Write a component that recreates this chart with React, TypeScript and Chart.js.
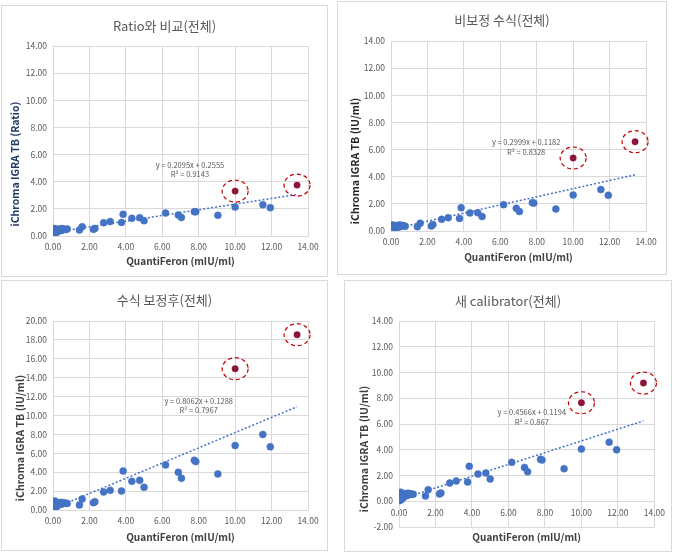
import React, { useEffect, useRef } from 'react';
import { Chart, registerables } from 'chart.js';

Chart.register(...registerables);

// QuantiFeron values (shared x for all four panels)
const qftX = [
  0.02, 0.03, 0.04, 0.05, 0.06, 0.07, 0.08, 0.09, 0.1, 0.11, 0.12, 0.13, 0.15, 0.16, 0.18,
  0.2, 0.22, 0.24, 0.27, 0.3, 0.33, 0.37, 0.41, 0.45, 0.5, 0.55, 0.62, 0.7, 0.78,
  1.45, 1.6, 2.22, 2.3, 2.78, 3.14, 3.76, 3.85, 4.33, 4.76, 5.0, 6.18, 6.88, 7.05, 7.76, 7.84,
  9.05, 10.0, 11.52, 11.93,
];

const ratioY = [
  0.12, 0.35, 0.18, 0.5, 0.22, 0.15, 0.42, 0.28, 0.55, 0.2, 0.32, 0.25, 0.45, 0.3, 0.38,
  0.27, 0.5, 0.33, 0.4, 0.36, 0.48, 0.44, 0.52, 0.4, 0.55, 0.46, 0.5, 0.48, 0.52,
  0.44, 0.69, 0.49, 0.56, 0.98, 1.06, 1.0, 1.6, 1.3, 1.35, 1.13, 1.69, 1.55, 1.37, 1.79, 1.79,
  1.52, 2.13, 2.31, 2.09,
];

const rawY = [
  0.05, 0.25, 0.1, 0.4, 0.12, 0.08, 0.3, 0.18, 0.45, 0.1, 0.22, 0.15, 0.35, 0.2, 0.28,
  0.18, 0.4, 0.22, 0.3, 0.26, 0.38, 0.32, 0.42, 0.3, 0.44, 0.36, 0.4, 0.38, 0.35,
  0.32, 0.57, 0.37, 0.47, 0.86, 0.98, 0.93, 1.72, 1.33, 1.35, 1.06, 1.94, 1.67, 1.43, 2.09, 2.06,
  1.62, 2.65, 3.05, 2.63,
];

const corrY = [
  0.1, 0.5, 0.2, 0.85, 0.25, 0.15, 0.65, 0.35, 0.95, 0.2, 0.45, 0.3, 0.7, 0.4, 0.6,
  0.35, 0.8, 0.45, 0.6, 0.55, 0.75, 0.65, 0.8, 0.6, 0.8, 0.7, 0.75, 0.72, 0.7,
  0.53, 1.17, 0.78, 0.88, 1.91, 2.08, 2.01, 4.13, 3.04, 3.14, 2.4, 4.77, 3.99, 3.36, 5.27, 5.12,
  3.82, 6.82, 7.99, 6.68,
];

const newCalY = [
  0.05, 0.35, 0.12, 0.6, 0.15, 0.1, 0.45, 0.22, 0.7, 0.12, 0.3, 0.2, 0.5, 0.28, 0.42,
  0.25, 0.58, 0.3, 0.45, 0.4, 0.55, 0.5, 0.6, 0.45, 0.62, 0.52, 0.58, 0.55, 0.55,
  0.41, 0.9, 0.57, 0.64, 1.42, 1.57, 1.49, 2.71, 2.11, 2.19, 1.73, 3.02, 2.63, 2.29, 3.27, 3.2,
  2.53, 4.05, 4.59, 4.0,
];

// Circled outliers
const outX = [10.0, 13.4];
const ratioOutY = [3.31, 3.75];
const rawOutY = [5.38, 6.58];
const corrOutY = [14.95, 18.55];
const newCalOutY = [7.65, 9.18];

// Trend line end points
const trendX = [0, 13.4];
const ratioTrend = [0.26, 3.06];
const rawTrend = [0.12, 4.14];
const corrTrend = [0.13, 10.93];
const newCalTrend = [0.12, 6.24];

const titles = ['Ratio와 비교(전체)', '비보정 수식(전체)', '수식 보정후(전체)', '새 calibrator(전체)'];
const xTitle = 'QuantiFeron (mIU/ml)';
const yTitles = ['iChroma IGRA TB (Ratio)', 'iChroma IGRA TB (IU/ml)', 'iChroma IGRA TB (IU/ml)', 'iChroma IGRA TB (IU/ml)'];
const equations = [
  ['y = 0.2095x + 0.2555', 'R² = 0.9143'],
  ['y = 0.2999x + 0.1182', 'R² = 0.8328'],
  ['y = 0.8062x + 0.1288', 'R² = 0.7967'],
  ['y = 0.4566x + 0.1194', 'R² = 0.867'],
];

const FONT = '"Noto Sans CJK KR", "Noto Sans", sans-serif';

type Cfg = {
  box: [number, number, number, number];
  ys: number[];
  outYs: number[];
  trend: number[];
  yMin: number;
  yMax: number;
  title: string;
  titleY: number;
  yTitle: string;
  yTitleColor: string;
  yTitleX: number;
  yTitleY: number;
  xTitleY: number;
  eq: string[];
  eqPos: [number, number, number];
  padTop: number;
  padRight: number;
  padBottom: number;
  yW: number;
  xH: number;
  xAxisAtZero: boolean;
};

const panels: Cfg[] = [
  {
    box: [1, 5, 327, 272], ys: ratioY, outYs: ratioOutY, trend: ratioTrend, yMin: 0, yMax: 14,
    title: titles[0], titleY: 20, yTitle: yTitles[0], yTitleColor: '#1f3864', yTitleX: 13, yTitleY: 158,
    xTitleY: 255, eq: equations[0], eqPos: [7.52, 5.23, 4.57],
    padTop: 40, padRight: 19, padBottom: 0, yW: 51, xH: 40, xAxisAtZero: false,
  },
  {
    box: [337, 1, 330, 274], ys: rawY, outYs: rawOutY, trend: rawTrend, yMin: 0, yMax: 14,
    title: titles[1], titleY: 18, yTitle: yTitles[1], yTitleColor: '#262626', yTitleX: 17, yTitleY: 159,
    xTitleY: 255, eq: equations[1], eqPos: [7.42, 6.56, 5.79],
    padTop: 39, padRight: 20, padBottom: 0, yW: 53, xH: 43, xAxisAtZero: false,
  },
  {
    box: [1, 280, 327, 271], ys: corrY, outYs: corrOutY, trend: corrTrend, yMin: 0, yMax: 20,
    title: titles[2], titleY: 19, yTitle: yTitles[2], yTitleColor: '#404040', yTitleX: 18, yTitleY: 157,
    xTitleY: 256, eq: equations[2], eqPos: [8.0, 11.5, 10.57],
    padTop: 40, padRight: 19, padBottom: 0, yW: 51, xH: 40, xAxisAtZero: false,
  },
  {
    box: [344, 280, 328, 272], ys: newCalY, outYs: newCalOutY, trend: newCalTrend, yMin: -2, yMax: 14,
    title: titles[3], titleY: 20, yTitle: yTitles[3], yTitleColor: '#404040', yTitleX: 19, yTitleY: 168,
    xTitleY: 256, eq: equations[3], eqPos: [7.28, 6.93, 6.16],
    padTop: 40, padRight: 15, padBottom: 24, yW: 54, xH: 24, xAxisAtZero: true,
  },
];

function makeDeco(cfg: Cfg) {
  return {
    id: 'deco',
    afterDatasetsDraw(chart: any) {
      const ctx = chart.ctx;
      const meta = chart.getDatasetMeta(2);
      ctx.save();
      ctx.strokeStyle = '#c00000';
      ctx.lineWidth = 1.2;
      ctx.setLineDash([4, 3]);
      meta.data.forEach((el: any) => {
        ctx.beginPath();
        ctx.ellipse(el.x, el.y, 13, 11, 0, 0, Math.PI * 2);
        ctx.stroke();
      });
      ctx.restore();
    },
    afterDraw(chart: any) {
      const ctx = chart.ctx;
      const { left, right } = chart.chartArea;
      const xs = chart.scales.x;
      const ys = chart.scales.y;
      ctx.save();
      ctx.textAlign = 'center';
      ctx.textBaseline = 'middle';
      ctx.fillStyle = '#595959';
      ctx.font = `13px ${FONT}`;
      ctx.fillText(cfg.title, chart.width / 2, cfg.titleY);

      ctx.font = `7.5px ${FONT}`;
      ctx.fillStyle = '#595959';
      const ex = xs.getPixelForValue(cfg.eqPos[0]);
      ctx.fillText(cfg.eq[0], ex, ys.getPixelForValue(cfg.eqPos[1]));
      ctx.fillText(cfg.eq[1], ex, ys.getPixelForValue(cfg.eqPos[2]));

      ctx.font = `bold 10px ${FONT}`;
      ctx.fillStyle = '#404040';
      ctx.fillText(xTitle, (left + right) / 2, cfg.xTitleY);

      ctx.font = `bold 10.5px ${FONT}`;
      ctx.translate(cfg.yTitleX, cfg.yTitleY);
      ctx.rotate(-Math.PI / 2);
      ctx.fillStyle = cfg.yTitleColor;
      ctx.fillText(cfg.yTitle, 0, 0);
      ctx.restore();
    },
  };
}

function Panel({ cfg }: { cfg: Cfg }) {
  const ref = useRef<HTMLCanvasElement>(null);
  useEffect(() => {
    if (!ref.current) return;
    const pts = qftX.map((x, i) => ({ x, y: cfg.ys[i] }));
    const outPts = outX.map((x, i) => ({ x, y: cfg.outYs[i] }));
    const trendPts = trendX.map((x, i) => ({ x, y: cfg.trend[i] }));
    const tickFmt = (v: any) => Number(v).toFixed(2);
    const chart = new Chart(ref.current, {
      type: 'scatter',
      data: {
        datasets: [
          {
            data: trendPts, showLine: true, pointRadius: 0, borderColor: '#4472c4',
            borderWidth: 1.5, borderDash: [2, 2], fill: false,
          } as any,
          {
            data: pts, pointRadius: 3.5, backgroundColor: '#4472c4', borderColor: '#4472c4', borderWidth: 0.5,
          },
          {
            data: outPts, pointRadius: 3.2, backgroundColor: '#8b1538', borderColor: '#8b1538', borderWidth: 0.5,
          },
        ],
      },
      options: {
        responsive: false,
        animation: false,
        devicePixelRatio: 1,
        layout: { padding: { top: cfg.padTop, right: cfg.padRight, left: 0, bottom: cfg.padBottom } },
        plugins: { legend: { display: false }, tooltip: { enabled: false }, title: { display: false } },
        scales: {
          x: {
            type: 'linear',
            position: (cfg.xAxisAtZero ? { y: 0 } : 'bottom') as any,
            min: 0, max: 14,
            ticks: {
              stepSize: 2, callback: tickFmt, padding: 6, color: '#595959',
              font: { size: 8.5, family: FONT }, autoSkip: false, maxRotation: 0,
            },
            grid: { color: '#d9d9d9', drawTicks: false },
            border: { color: '#d9d9d9' },
            afterFit: (s: any) => { s.height = cfg.xH; },
          },
          y: {
            type: 'linear', position: 'left', min: cfg.yMin, max: cfg.yMax,
            ticks: {
              stepSize: 2, callback: tickFmt, padding: 6, color: '#595959',
              font: { size: 8.5, family: FONT }, autoSkip: false,
            },
            grid: { color: '#d9d9d9', drawTicks: false },
            border: { color: '#d9d9d9' },
            afterFit: (s: any) => { s.width = cfg.yW; },
          },
        },
      },
      plugins: [makeDeco(cfg)],
    });
    return () => chart.destroy();
  }, [cfg]);
  const [l, t, w, h] = cfg.box;
  return (
    <div
      style={{
        position: 'absolute', left: l, top: t, width: w, height: h,
        border: '1px solid #d9d9d9', boxSizing: 'border-box', background: '#fff',
      }}
    >
      <canvas ref={ref} width={w - 2} height={h - 2} style={{ display: 'block', width: w - 2, height: h - 2 }} />
    </div>
  );
}

export default function App() {
  return (
    <div style={{ position: 'fixed', left: 0, top: 0, width: 675, height: 555, background: '#fff', overflow: 'hidden' }}>
      {panels.map((p, i) => (
        <Panel key={i} cfg={p} />
      ))}
    </div>
  );
}
